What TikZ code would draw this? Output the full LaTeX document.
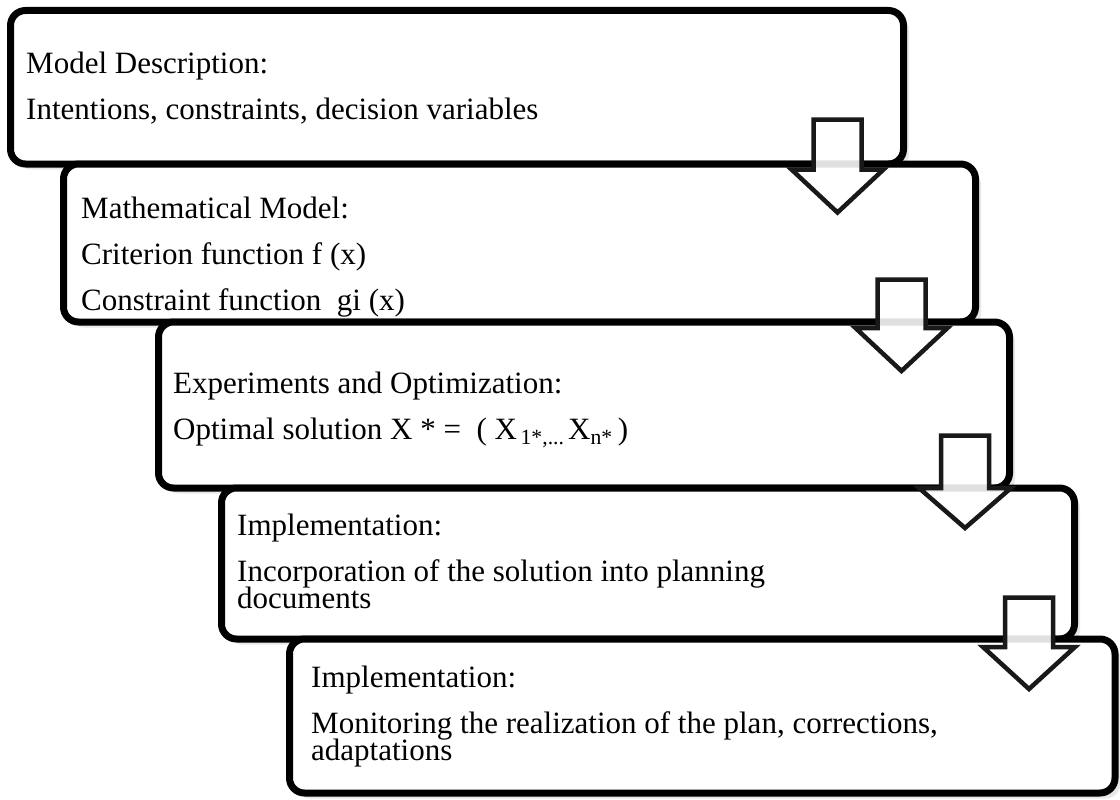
\documentclass[tikz,border=0pt]{standalone}
\usepackage{fontspec}
\setmainfont{Liberation Serif}
\usetikzlibrary{shadows}
\newcommand\steptextfont{\fontsize{31}{27}\selectfont\lineskiplimit=-30pt\relax}

\begin{document}
\begin{tikzpicture}[x=1pt,y=-1pt,
    stepbox/.style={draw=black,line width=7pt,rounded corners=15pt,fill=white,
      drop shadow={opacity=0.18,shadow xshift=5.5pt,shadow yshift=-5.5pt}},
    steptext/.style={anchor=base west,inner sep=0pt,align=left,font=\steptextfont},
    downarrow/.style={draw=black!90,line width=4.5pt,fill=white,fill opacity=0.88}]
  \useasboundingbox (0,0) rectangle (1120,800);

  \draw[stepbox] (10.5,10.5) rectangle (903.5,164);
  \draw[stepbox] (63.5,164) rectangle (975.5,322);
  \draw[stepbox] (158.5,322) rectangle (1009.5,488);
  \draw[stepbox] (221.5,488) rectangle (1074.5,639);
  \draw[stepbox] (289.5,639) rectangle (1115,793);

  \node[steptext] (model) at (26,119)
    {Model Description:\\[19pt]Intentions, constraints, decision variables};
  \node[steptext] (math) at (81,310)
    {Mathematical Model:\\[19pt]Criterion function f (x)\\[19pt]Constraint function\ \ gi (x)};
  \node[steptext] (optim) at (173,439)
    {Experiments and Optimization:\\[19pt]Optimal solution X * =\ \ ( X\textsubscript{\,1*,...\,}X\textsubscript{n*}\,)};
  \node[steptext] (implement) at (237,608)
    {Implementation:\\[19pt]Incorporation of the solution into planning\\documents};
  \node[steptext] (monitor) at (311,760)
    {Implementation:\\[19pt]Monitoring the realization of the plan, corrections,\\adaptations};

  \draw[downarrow] (813.5,119.5) -- ++(48,0) -- ++(0,50) -- ++(22,0) -- ++(-46,43)
    -- ++(-46,-43) -- ++(22,0) -- cycle;
  \draw[downarrow] (877.5,279.5) -- ++(48,0) -- ++(0,48.5) -- ++(22,0) -- ++(-46,43)
    -- ++(-46,-43) -- ++(22,0) -- cycle;
  \draw[downarrow] (941,435.5) -- ++(48,0) -- ++(0,52.5) -- ++(22,0) -- ++(-46,40)
    -- ++(-46,-40) -- ++(22,0) -- cycle;
  \draw[downarrow] (1005,597.5) -- ++(48,0) -- ++(0,49.5) -- ++(22,0) -- ++(-46,42)
    -- ++(-46,-42) -- ++(22,0) -- cycle;
\end{tikzpicture}
\end{document}
